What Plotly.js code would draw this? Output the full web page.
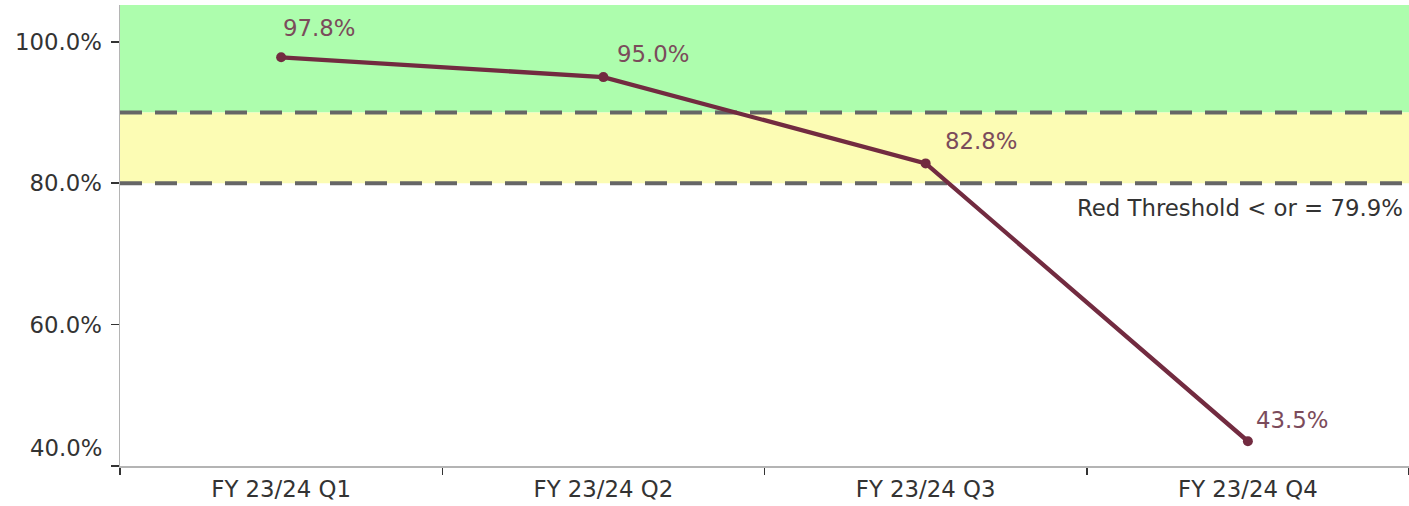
<!DOCTYPE html>
<html>
<head>
<meta charset="utf-8">
<script src="https://cdn.plot.ly/plotly-3.0.1.min.js"></script>
<style>
  html, body { margin: 0; padding: 0; background: #ffffff; }
  #chart { width: 1409px; height: 506px; }
</style>
</head>
<body>
<div id="chart"></div>
<script>
// Quarterly compliance rate with RAG threshold bands
const quarters = ['FY 23/24 Q1', 'FY 23/24 Q2', 'FY 23/24 Q3', 'FY 23/24 Q4'];
const rates = [97.8, 95.0, 82.8, 43.5];

const greenThreshold = 90;
const redThreshold = 80;
const redThresholdLabel = 'Red Threshold < or = 79.9%';

const yTickVals = [40, 60, 80, 100];
const yRange = [40, 105.2];

// label offsets (px) for each point's value label
const labelShiftX = [0, 12, 17, 6];
const labelShiftY = [29, 23, 22, 21];

const FONT = 'DejaVu Sans';
const FS = 22.8;
const lineColor = '#722b40';
const labelColor = '#7b4b5b';
const dashColor = '#666666';

const trace = {
  x: quarters,
  y: rates,
  type: 'scatter',
  mode: 'lines+markers',
  line: { color: lineColor, width: 4.3 },
  marker: { color: lineColor, size: 10 },
  hoverinfo: 'skip',
  cliponaxis: false
};

const valueLabels = quarters.map((q, i) => ({
  x: q, y: rates[i], xref: 'x', yref: 'y',
  text: rates[i].toFixed(1) + '%',
  showarrow: false,
  xanchor: 'left', yanchor: 'middle',
  xshift: labelShiftX[i], yshift: labelShiftY[i],
  font: { family: FONT, size: FS, color: labelColor }
}));

const layout = {
  width: 1409,
  height: 506,
  margin: { l: 120, r: 0, t: 5, b: 40 },
  paper_bgcolor: '#ffffff',
  plot_bgcolor: '#ffffff',
  showlegend: false,
  font: { family: FONT, size: FS, color: '#333333' },
  xaxis: {
    type: 'category',
    range: [-0.5, quarters.length - 0.5],
    showgrid: false,
    zeroline: false,
    showline: true,
    linecolor: '#b4b4b4',
    linewidth: 1.5,
    ticks: 'outside',
    tickson: 'boundaries',
    ticklen: 7,
    tickcolor: '#333333',
    tickwidth: 1.5,
    ticklabelstandoff: 2,
    tickfont: { family: FONT, size: FS, color: '#333333' },
    fixedrange: true
  },
  yaxis: {
    range: yRange,
    showgrid: false,
    zeroline: false,
    showline: true,
    linecolor: '#b4b4b4',
    linewidth: 1.5,
    ticks: 'outside',
    ticklen: 8,
    tickcolor: '#333333',
    tickwidth: 1.5,
    tickvals: yTickVals,
    ticktext: yTickVals.map(v => v === yRange[0] ? '' : v.toFixed(1) + '%'),
    ticklabelstandoff: 4,
    tickfont: { family: FONT, size: FS, color: '#333333' },
    fixedrange: true
  },
  shapes: [
    { type: 'rect', layer: 'below', xref: 'paper', yref: 'y', x0: 0, x1: 1,
      y0: greenThreshold, y1: yRange[1], fillcolor: '#adfdad', line: { width: 0 } },
    { type: 'rect', layer: 'below', xref: 'paper', yref: 'y', x0: 0, x1: 1,
      y0: redThreshold, y1: greenThreshold, fillcolor: '#fcfcb4', line: { width: 0 } },
    { type: 'line', layer: 'below', xref: 'paper', yref: 'y', x0: 0, x1: 1,
      y0: greenThreshold, y1: greenThreshold,
      line: { color: dashColor, width: 4, dash: '22px,13px' } },
    { type: 'line', layer: 'below', xref: 'paper', yref: 'y', x0: 0, x1: 1,
      y0: redThreshold, y1: redThreshold,
      line: { color: dashColor, width: 4, dash: '22px,13px' } }
  ],
  annotations: valueLabels.concat([
    { x: 1, y: redThreshold, xref: 'paper', yref: 'y',
      text: redThresholdLabel, showarrow: false,
      xanchor: 'right', yanchor: 'top', xshift: -4, yshift: -10,
      font: { family: FONT, size: FS, color: '#333333' } },
    // bottom tick label sits just above the axis corner
    { x: 0, y: yRange[0], xref: 'paper', yref: 'y',
      text: yRange[0].toFixed(1) + '%', showarrow: false,
      xanchor: 'right', yanchor: 'middle', xshift: -16, yshift: 18,
      font: { family: FONT, size: FS, color: '#333333' } }
  ])
};

Plotly.newPlot('chart', [trace], layout, { displayModeBar: false, staticPlot: true });
</script>
</body>
</html>
